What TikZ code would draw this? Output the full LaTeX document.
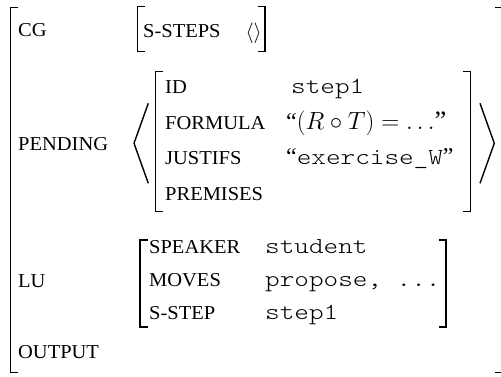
\documentclass[tikz,border=0pt]{standalone}
\usepackage{fontspec}
\newfontfamily\lblfont[FakeStretch=1.04]{Liberation Serif}
\newfontfamily\valfont[Extension=.otf, FakeStretch=1.21]{lmmonolt10-regular}
\newfontfamily\qfont{Liberation Serif}
\newcommand\lbrk[3]{\draw[brk] ({#1+7.5},#2) -- (#1,#2) -- (#1,#3) -- ({#1+7.5},#3);}
\newcommand\rbrk[3]{\draw[brk] ({#1-7.5},#2) -- (#1,#2) -- (#1,#3) -- ({#1-7.5},#3);}
\begin{document}
\begin{tikzpicture}[x=1pt,y=-1pt,
  brk/.style={line width=1.4pt, line join=miter},
  lbl/.style={anchor=base west, inner sep=0pt, font=\lblfont\fontsize{19.7}{20}\selectfont},
  val/.style={anchor=base west, inner sep=0pt, font=\valfont\fontsize{23}{25}\selectfont},
  qval/.style={anchor=base west, inner sep=0pt, font=\qfont\fontsize{24}{26}\selectfont}]
\useasboundingbox (0,0) rectangle (501,376);
% outer matrix
\lbrk{10.5}{7.5}{372.5}
\rbrk{502.5}{7.5}{372.5}
\node[lbl] (cg) at (18,36.5) {CG};
\node[lbl] (pending) at (18,150) {PENDING};
\node[lbl] (lu) at (18,287) {LU};
\node[lbl] (output) at (18,358) {OUTPUT};
% CG value
\lbrk{137.3}{6.5}{51.7}
\rbrk{265}{6.5}{51.7}
\node[lbl] (ssteps) at (143,37) {S-STEPS};
\node[anchor=base west, inner sep=0pt] (empty) at (245.5,38) {\fontsize{19.5}{20}\selectfont$\langle\rangle$};
% PENDING value
\draw[brk] (148.3,103.3) -- (134,143.3) -- (148.3,183.3);
\draw[brk] (480,103.3) -- (494.3,143.3) -- (480,183.3);
\lbrk{155.7}{71.5}{211.5}
\rbrk{470.7}{71.5}{211.5}
\node[lbl] (id) at (165,93.5) {ID};
\node[lbl] (formula) at (165,129) {FORMULA};
\node[lbl] (justifs) at (165,164.5) {JUSTIFS};
\node[lbl] (premises) at (165,200) {PREMISES};
\node[val] (step) at (291,93.5) {step1};
\node[qval] (fval) at (286,129) {“\fontsize{26.5}{28}\selectfont$(R\circ T)=\ldots$”};
\node[qval] (jval) at (286,164.5) {“{\valfont\fontsize{23}{25}\selectfont exercise\_W}”};
% LU value
\lbrk{140}{240}{327}
\rbrk{446}{240}{327}
\node[lbl] (speaker) at (149,253) {SPEAKER};
\node[lbl] (moves) at (149,286) {MOVES};
\node[lbl] (sstep) at (149,319) {S-STEP};
\node[val] (student) at (265,253) {student};
\node[val] (propose) at (265,286) {propose, ...};
\node[val] (step1b) at (265,319) {step1};
\end{tikzpicture}
\end{document}
